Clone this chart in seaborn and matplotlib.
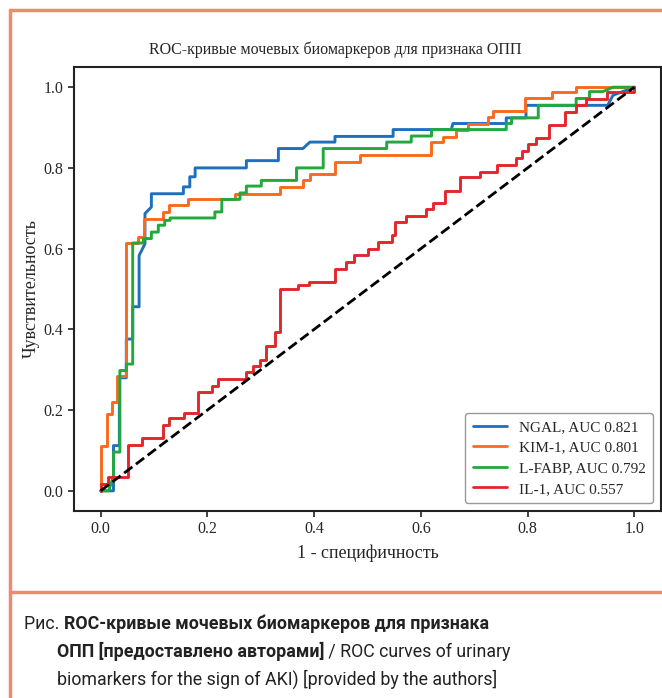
import numpy as np
import pandas as pd
import seaborn as sns
import matplotlib
matplotlib.use('Agg')
from matplotlib import pyplot as plt
from matplotlib import font_manager
from matplotlib.lines import Line2D

# --- data (step vertices of each ROC curve) ---
labels = ['NGAL, AUC 0.821', 'KIM-1, AUC 0.801', 'L-FABP, AUC 0.792', 'IL-1, AUC 0.557']

ngal_fpr = [0, 0.024, 0.024, 0.035, 0.035, 0.048, 0.048, 0.06, 0.06, 0.072, 0.072, 0.083, 0.083,
            0.095, 0.095, 0.155, 0.155, 0.167, 0.167, 0.177, 0.177, 0.273, 0.273, 0.333, 0.333,
            0.379, 0.392, 0.439, 0.439, 0.548, 0.548, 0.657, 0.66, 0.76, 0.76, 0.797, 0.797,
            0.95, 0.96, 1.0]
ngal_tpr = [0, 0, 0.112, 0.112, 0.28, 0.28, 0.376, 0.376, 0.456, 0.456, 0.583, 0.612, 0.687,
            0.703, 0.736, 0.736, 0.753, 0.753, 0.778, 0.778, 0.8, 0.8, 0.818, 0.818, 0.848,
            0.848, 0.864, 0.864, 0.878, 0.878, 0.895, 0.895, 0.91, 0.91, 0.924, 0.924, 0.955,
            0.955, 0.98, 1.0]

kim_fpr = [0, 0, 0.011, 0.011, 0.022, 0.022, 0.03, 0.03, 0.047, 0.047, 0.07, 0.07, 0.081, 0.081,
           0.117, 0.117, 0.128, 0.128, 0.164, 0.164, 0.252, 0.252, 0.336, 0.336, 0.379, 0.379,
           0.392, 0.392, 0.439, 0.439, 0.486, 0.486, 0.619, 0.619, 0.642, 0.642, 0.665, 0.665,
           0.688, 0.688, 0.726, 0.726, 0.735, 0.735, 0.795, 0.795, 0.845, 0.845, 0.891, 0.891, 1.0]
kim_tpr = [0, 0.112, 0.112, 0.19, 0.19, 0.221, 0.221, 0.285, 0.285, 0.614, 0.614, 0.629, 0.629,
           0.674, 0.674, 0.691, 0.691, 0.707, 0.707, 0.722, 0.722, 0.736, 0.736, 0.753, 0.753,
           0.769, 0.769, 0.786, 0.786, 0.814, 0.814, 0.831, 0.831, 0.863, 0.863, 0.877, 0.877,
           0.895, 0.895, 0.91, 0.91, 0.926, 0.926, 0.941, 0.941, 0.972, 0.972, 0.989, 0.989, 1.0, 1.0]

lfabp_fpr = [0, 0.015, 0.024, 0.024, 0.036, 0.036, 0.048, 0.048, 0.06, 0.06, 0.08, 0.08, 0.095,
             0.095, 0.108, 0.108, 0.12, 0.12, 0.13, 0.13, 0.214, 0.214, 0.227, 0.227, 0.261,
             0.261, 0.273, 0.273, 0.301, 0.301, 0.367, 0.367, 0.417, 0.417, 0.536, 0.536, 0.582,
             0.582, 0.62, 0.62, 0.76, 0.76, 0.77, 0.77, 0.82, 0.82, 0.891, 0.891, 0.916, 0.916,
             0.941, 0.96, 1.0]
lfabp_tpr = [0, 0, 0.037, 0.096, 0.096, 0.298, 0.298, 0.314, 0.314, 0.614, 0.614, 0.625, 0.625,
             0.641, 0.641, 0.658, 0.658, 0.67, 0.67, 0.676, 0.676, 0.691, 0.691, 0.722, 0.722,
             0.738, 0.738, 0.755, 0.755, 0.769, 0.769, 0.8, 0.8, 0.848, 0.848, 0.864, 0.864,
             0.879, 0.879, 0.895, 0.895, 0.91, 0.91, 0.924, 0.924, 0.955, 0.955, 0.972, 0.972,
             0.989, 0.989, 1.0, 1.0]

il1_fpr = [0, 0, 0.014, 0.014, 0.052, 0.052, 0.077, 0.077, 0.116, 0.116, 0.128, 0.128, 0.156,
           0.156, 0.183, 0.183, 0.208, 0.208, 0.22, 0.22, 0.272, 0.272, 0.286, 0.286, 0.298,
           0.298, 0.31, 0.31, 0.326, 0.326, 0.336, 0.336, 0.37, 0.37, 0.39, 0.39, 0.439, 0.439,
           0.46, 0.46, 0.475, 0.475, 0.5, 0.5, 0.519, 0.519, 0.545, 0.545, 0.551, 0.551, 0.573,
           0.573, 0.61, 0.61, 0.623, 0.623, 0.645, 0.645, 0.673, 0.673, 0.71, 0.71, 0.742, 0.742,
           0.779, 0.779, 0.79, 0.79, 0.80, 0.80, 0.816, 0.816, 0.841, 0.841, 0.87, 0.87, 0.891,
           0.891, 0.91, 0.91, 0.948, 0.948, 1.0, 1.0]
il1_tpr = [0, 0.018, 0.018, 0.033, 0.033, 0.114, 0.114, 0.13, 0.13, 0.163, 0.163, 0.18, 0.18,
           0.194, 0.194, 0.244, 0.244, 0.259, 0.259, 0.277, 0.277, 0.294, 0.294, 0.309, 0.309,
           0.325, 0.325, 0.358, 0.358, 0.393, 0.393, 0.5, 0.5, 0.51, 0.51, 0.517, 0.517, 0.55,
           0.55, 0.567, 0.567, 0.583, 0.583, 0.6, 0.6, 0.616, 0.616, 0.633, 0.633, 0.666, 0.666,
           0.682, 0.682, 0.698, 0.698, 0.714, 0.714, 0.744, 0.744, 0.778, 0.778, 0.79, 0.79, 0.808,
           0.808, 0.825, 0.825, 0.841, 0.841, 0.858, 0.858, 0.874, 0.874, 0.906, 0.906, 0.939,
           0.939, 0.955, 0.955, 0.97, 0.97, 0.989, 0.989, 1.0]

chance = [0, 1]

colors = ['#1f6fbf', '#fa6a1e', '#22a83c', '#e3262b']
frame_color = '#ec8b70'

sns.set_style('ticks')
plt.rcParams['font.family'] = ['Liberation Serif', 'DejaVu Serif']
plt.rcParams['axes.edgecolor'] = '#222222'

fig = plt.figure(figsize=(6.62, 6.98), dpi=100)
W, H = 662, 698
ax = fig.add_axes([74 / W, 187 / H, 587 / W, 444 / H])

curves = [(ngal_fpr, ngal_tpr), (kim_fpr, kim_tpr), (lfabp_fpr, lfabp_tpr), (il1_fpr, il1_tpr)]
for (fx, ty), lab, c in zip(curves, labels, colors):
    df = pd.DataFrame({'fpr': fx, 'tpr': ty})
    sns.lineplot(data=df, x='fpr', y='tpr', sort=False, estimator=None, color=c,
                 linewidth=2.1, label=lab, ax=ax)
sns.lineplot(x=chance, y=chance, color='black', linestyle='--', linewidth=2, ax=ax)

ax.set_xlim(-0.05, 1.05)
ax.set_ylim(-0.05, 1.05)
ax.set_xticks([0, 0.2, 0.4, 0.6, 0.8, 1.0])
ax.set_yticks([0, 0.2, 0.4, 0.6, 0.8, 1.0])
ax.tick_params(labelsize=11.5, length=4, width=1.2, color='#222222')
for s in ax.spines.values():
    s.set_linewidth(1.5)
ax.set_xlabel('1 - специфичность', fontsize=13, labelpad=5)
ax.set_ylabel('Чувствительность', fontsize=13, labelpad=3)
ax.set_title('ROC-кривые мочевых биомаркеров для признака ОПП', fontsize=11.5, x=0.445, pad=9)

handles = [Line2D([0], [0], color=c, lw=2) for c in colors]
ax.legend(handles, labels, loc='lower right', fontsize=11, frameon=True, framealpha=1,
          edgecolor='#999999', handlelength=2.2, borderpad=0.5, labelspacing=0.45)

# orange frame and separator
fig.add_artist(Line2D([10 / W, 10 / W], [0, 1 - 10 / H], transform=fig.transFigure,
                      color=frame_color, lw=2.5))
fig.add_artist(Line2D([10 / W, 1], [1 - 10 / H, 1 - 10 / H], transform=fig.transFigure,
                      color=frame_color, lw=2.5))
fig.add_artist(Line2D([10 / W, 1], [1 - 592 / H, 1 - 592 / H], transform=fig.transFigure,
                      color=frame_color, lw=2.5))

# caption (mixed bold / regular)
names = {f.name for f in font_manager.fontManager.ttflist}
cap_font = 'Liberation Sans Narrow' if 'Liberation Sans Narrow' in names else 'Roboto'
renderer = fig.canvas.get_renderer()


def put(parts, x_px, y_px):
    x = x_px / W
    for txt, bold in parts:
        t = fig.text(x, 1 - y_px / H, txt, fontsize=12.8, family=cap_font,
                     fontweight='bold' if bold else 'normal', va='baseline', color='#222222')
        bb = t.get_window_extent(renderer=renderer)
        x = bb.x1 / fig.dpi / fig.get_figwidth()


put([('Рис. ', False), ('ROC-кривые мочевых биомаркеров для признака', True)], 24, 629)
put([('ОПП [предоставлено авторами]', True), (' / ROC curves of urinary', False)], 57, 657)
put([('biomarkers for the sign of AKI) [provided by the authors]', False)], 57, 685)

fig.savefig('out.png', dpi=100)
